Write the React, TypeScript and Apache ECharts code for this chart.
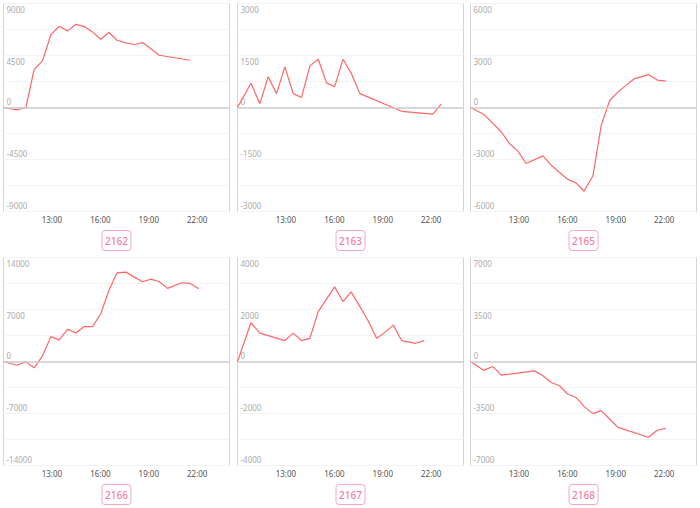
import React, { useEffect, useRef } from "react";
import * as echarts from "echarts";

const TIMES = ["10:00","10:50","11:23","11:54","12:25","12:56","13:27","13:58","14:29","15:00","15:31","16:01","16:32","17:02","17:35","18:06","18:37","19:08","19:39","20:10","21:01","21:34","22:06","22:37"];

const X_LABELS = [13, 16, 19, 22];

const NAMES = ["2162", "2163", "2165", "2166", "2167", "2168"];
const LIMITS = [9000, 3000, 6000, 14000, 4000, 7000];

const V2162 = [0, -200, 0, 3300, 4030, 6300, 7030, 6630, 7200, 7000, 6540, 5910, 6490, 5820, 5590, 5450, 5620, null, 4520, null, null, 4090, null, null];
const V2163 = [0, 700, 110, 890, 400, 1170, 400, 290, 1200, 1390, 710, 600, 1390, 1000, 400, null, null, null, null, -110, null, null, -190, 100];
const V2165 = [0, -400, -920, -1400, -2080, -2520, -3230, null, -2790, -3330, -3750, -4140, -4350, -4830, -3940, -1020, 390, 900, 1290, 1670, 1900, 1580, 1520, null];
const V2166 = [0, -500, -50, -850, 760, 3350, 2910, 4340, 3850, 4700, 4700, 6400, 9600, 11940, 12030, 11360, 10730, 11090, 10730, 9840, 10600, 10510, 9790, null];
const V2167 = [0, 1490, 1090, null, null, 805, 1090, 805, 890, 1920, null, 2870, 2300, 2680, 2110, 1560, 890, 1120, 1400, 805, 700, 805, null, null];
const V2168 = [0, -600, -340, -920, null, null, null, -630, -960, -1410, -1630, -2190, -2420, -3020, -3510, -3310, -3870, -4430, null, null, -5100, -4630, -4500, null];

const SERIES = [V2162, V2163, V2165, V2166, V2167, V2168];

const toHours = (s: string) => {
  const [h, m] = s.split(":").map(Number);
  return h + m / 60;
};

const FONT = "'Noto Sans', 'Noto Sans CJK SC', sans-serif";
const LINE_COLOR = "#ff6666";
const BADGE_COLOR = "#f27fa0";

export default function App() {
  const ref = useRef<HTMLDivElement>(null);

  useEffect(() => {
    if (!ref.current) return;
    const chart = echarts.init(ref.current, undefined, { renderer: "svg" });

    const lefts = [3.5, 237.5, 470.5];
    const tops = [3.5, 257.5];
    const W = 226;
    const H = 208;

    const grids: any[] = [];
    const xAxes: any[] = [];
    const yAxes: any[] = [];
    const series: any[] = [];
    const graphics: any[] = [];

    SERIES.forEach((vals, i) => {
      const col = i % 3;
      const row = Math.floor(i / 3);
      const left = lefts[col];
      const top = tops[row];
      const lim = LIMITS[i];
      grids.push({
        left,
        top,
        width: W,
        height: H,
        show: true,
        borderColor: "#d4d4d4",
        borderWidth: 1,
        backgroundColor: "#fff",
      });
      xAxes.push({
        type: "value",
        gridIndex: i,
        min: 10,
        max: 24,
        axisLine: { show: false, onZero: false },
        axisTick: { show: false },
        splitLine: { show: false },
        axisLabel: {
          customValues: X_LABELS,
          formatter: (v: number) => `${v}:00`,
          color: "#555",
          fontSize: 8,
          fontFamily: FONT,
          margin: 4,
        },
      });
      yAxes.push({
        type: "value",
        gridIndex: i,
        min: -lim,
        max: lim,
        interval: lim / 4,
        axisLine: { show: false },
        axisTick: { show: false },
        splitLine: { show: true, lineStyle: { color: "#f3f3f3", width: 1 } },
        axisLabel: {
          inside: true,
          margin: 3,
          customValues: [-lim, -lim / 2, 0, lim / 2, lim],
          formatter: (v: number) => (v > 0 ? `{d|${v}}` : `{u|${v}}`),
          color: "#aaa",
          fontSize: 8,
          fontFamily: FONT,
          rich: {
            d: { padding: [12, 0, 0, 0], color: "#aaa", fontSize: 8, fontFamily: FONT },
            u: { padding: [0, 0, 12, 0], color: "#aaa", fontSize: 8, fontFamily: FONT },
          },
        },
      });
      const data: [number, number][] = [];
      vals.forEach((v, k) => {
        if (v !== null) data.push([toHours(TIMES[k]), v as number]);
      });
      series.push({
        type: "line",
        xAxisIndex: i,
        yAxisIndex: i,
        data,
        symbol: "none",
        lineStyle: { color: LINE_COLOR, width: 1.2 },
        markLine: {
          silent: true,
          symbol: "none",
          label: { show: false },
          lineStyle: { color: "#cccccc", width: 1.5, type: "solid" },
          data: [{ yAxis: 0 }],
        },
      });
      const cx = left + W / 2;
      const cy = row === 0 ? 240.5 : 494.5;
      graphics.push({
        type: "group",
        x: cx - 14.5,
        y: cy - 10,
        children: [
          {
            type: "rect",
            shape: { x: 0, y: 0, width: 29, height: 20, r: 3 },
            style: { fill: "#fff", stroke: "#f7a8c0", lineWidth: 1 },
          },
          {
            type: "text",
            x: 14.5,
            y: 10.5,
            style: {
              text: NAMES[i],
              fill: BADGE_COLOR,
              font: `500 10px ${FONT}`,
              align: "center",
              verticalAlign: "middle",
            },
          },
        ],
      });
    });

    chart.setOption({
      animation: false,
      backgroundColor: "#fff",
      grid: grids,
      xAxis: xAxes,
      yAxis: yAxes,
      series,
      graphic: graphics,
    });

    return () => chart.dispose();
  }, []);

  return (
    <div
      ref={ref}
      style={{ position: "fixed", left: 0, top: 0, width: 700, height: 508 }}
    />
  );
}
